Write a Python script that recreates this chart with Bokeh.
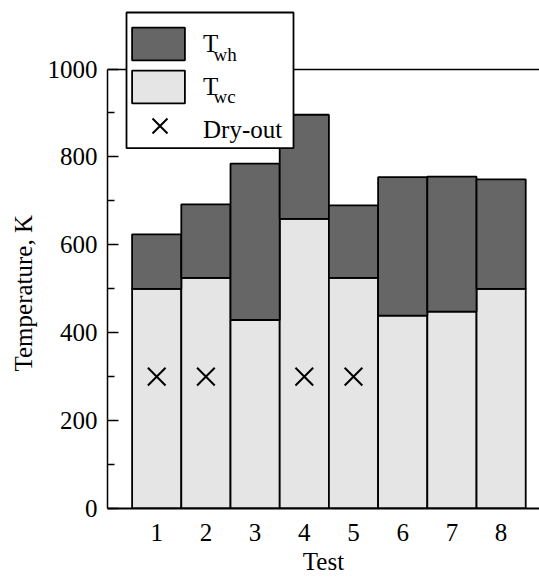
from bokeh.plotting import figure
from bokeh.models import Range1d, FixedTicker, Legend, LegendItem, Title
from bokeh.core.properties import value
from bokeh.embed import file_html
from bokeh.resources import INLINE

# ---- data ----
tests = [1, 2, 3, 4, 5, 6, 7, 8]
t_wh = [624, 692, 785, 896, 690, 754, 755, 749]
t_wc = [500, 525, 429, 659, 525, 439, 448, 500]
dryout_tests = [1, 2, 4, 5]
dryout_temp = [300, 300, 300, 300]
x_tick_labels = ["1", "2", "3", "4", "5", "6", "7", "8"]
y_ticks = [0, 200, 400, 600, 800, 1000]
y_minor_ticks = [100, 300, 500, 700, 900]
y_max = 1000
legend_subscripts = ["wh", "wc"]

FONT = "Liberation Serif"
FS = "25px"
DARK = "#666666"
LIGHT = "#e5e5e5"

# frame reaches the top of the canvas so the legend is not clipped;
# the plotted scale still ends at y_max (top rule drawn there)
X_END, Y_END = 8.78, 1156
p = figure(width=539, height=577, output_backend="svg", toolbar_location=None,
           x_range=Range1d(0, X_END), y_range=Range1d(0, Y_END),
           min_border_left=107, min_border_right=0, min_border_top=0, min_border_bottom=68)
p.outline_line_color = None
p.xgrid.visible = False
p.ygrid.visible = False
p.background_fill_color = "white"
p.border_fill_color = "white"

light = p.vbar(x=tests, width=1, bottom=0, top=t_wc, fill_color=LIGHT,
               line_color="black", line_width=1.8)
dark = p.vbar(x=tests, width=1, bottom=t_wc, top=t_wh, fill_color=DARK,
              line_color="black", line_width=1.8)
sc = p.scatter(x=dryout_tests, y=dryout_temp, marker="x", size=25,
               line_color="black", line_width=2)
# invisible twin used only to reserve the legend row
sc_ghost = p.scatter(x=dryout_tests, y=dryout_temp, marker="x", size=25,
                     line_alpha=0, fill_alpha=0)

# top rule at y_max
p.hspan(y=[y_max], line_color="black", line_width=1.5)

# legend frame (white box with border), drawn as a glyph so text can sit above it
px_x = 432 / X_END          # pixels per x unit
px_y = 509 / Y_END          # pixels per y unit
box_l, box_r, box_t, box_b = 126, 293, 12, 148   # screen pixels of the legend box
p.quad(left=[(box_l - 107) / px_x], right=[(box_r - 107) / px_x],
       top=[(509 - box_t) / px_y], bottom=[(509 - box_b) / px_y],
       fill_color="white", line_color="black", line_width=1.8)

# x axis
xa = p.xaxis[0]
xa.ticker = FixedTicker(ticks=tests)
xa.major_label_overrides = {t: s for t, s in zip(tests, x_tick_labels)}
xa.major_tick_in = 0
xa.major_tick_out = 0
xa.minor_tick_in = 0
xa.minor_tick_out = 0
xa.axis_line_width = 2
xa.major_label_standoff = 15
xa.axis_label = "Test"
xa.axis_label_standoff = 4
xa.axis_label_text_font_style = "normal"
xa.axis_label_text_font = FONT
xa.axis_label_text_font_size = FS
xa.axis_label_text_color = "black"

# y axis
ya = p.yaxis[0]
ya.ticker = FixedTicker(ticks=y_ticks, minor_ticks=y_minor_ticks)
ya.bounds = (0, y_max)
ya.major_tick_in = 11
ya.major_tick_out = 0
ya.minor_tick_in = 7
ya.minor_tick_out = 0
ya.axis_line_width = 1.5
ya.major_tick_line_width = 1.5
ya.minor_tick_line_width = 1.5
ya.major_label_standoff = 10

for ax in (xa, ya):
    ax.major_label_text_font = FONT
    ax.major_label_text_font_size = FS
    ax.major_label_text_color = "black"
    ax.axis_line_color = "black"
    ax.major_tick_line_color = "black"
    ax.minor_tick_line_color = "black"

# y axis title (left-side title so it can sit centred on the 0..1000 span)
ytitle = Title(text="Temperature, K", align="left", offset=137, standoff=15,
               text_font=FONT, text_font_size=FS, text_font_style="normal",
               text_color="black")
p.add_layout(ytitle, "left")

legend = Legend(items=[LegendItem(label="T", renderers=[dark]),
                       LegendItem(label="T", renderers=[light]),
                       LegendItem(label="Dry-out", renderers=[sc_ghost])],
                location=(18, 358), orientation="vertical",
                glyph_width=66, glyph_height=41, label_standoff=12,
                padding=0, spacing=2, margin=0,
                label_text_font=FONT, label_text_font_size=FS,
                label_text_color="black",
                border_line_color=None, background_fill_alpha=0.0)
p.add_layout(legend)

# larger marker symbol overlaid on the third legend row
legend_x = Legend(items=[LegendItem(label="", renderers=[sc])],
                  location=(26, 356), glyph_width=53, glyph_height=53,
                  label_standoff=0, padding=0, spacing=0, margin=0,
                  border_line_color=None, background_fill_alpha=0.0,
                  label_text_font_size="1px")
p.add_layout(legend_x)

# subscripts of the legend labels
p.text(x=[2.154, 2.154], y=[1034, 938], text=legend_subscripts, level="overlay",
       text_font=value(FONT), text_font_size=value("19px"),
       text_baseline="middle", text_align="left", text_color="black")

open("out.html", "w").write(file_html(p, INLINE))
